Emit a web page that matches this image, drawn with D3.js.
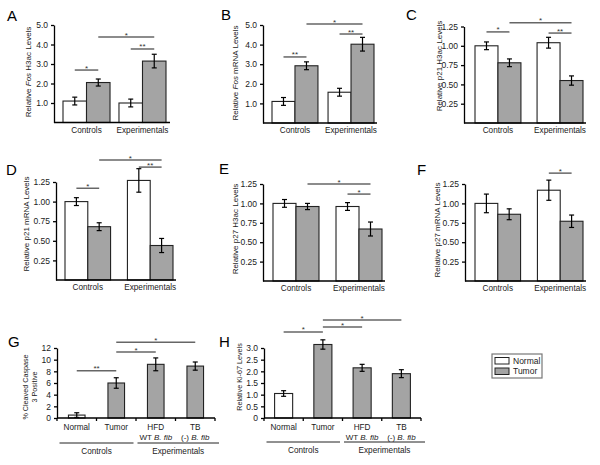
<!DOCTYPE html>
<html><head><meta charset="utf-8">
<script src="https://cdn.jsdelivr.net/npm/d3@7"></script>
<style>body{margin:0;background:#fff}</style>
</head><body>
<svg id="chart" width="600" height="465"></svg>
<script>
// ---------------- DATA ----------------
const groups = ["Controls", "Experimentals"];
const series = ["Normal", "Tumor"];

// A: Relative Fos H3ac
const fosH3acMean = [[1.1, 2.05], [1.0, 3.15]];
const fosH3acErr  = [[0.2, 0.18], [0.2, 0.35]];
const fosH3acSig  = [
  {from: [0, 0], to: [0, 1], level: 2.69, label: "*"},
  {from: [0, 1], to: [1, 1], level: 4.38, label: "*"},
  {from: [1, 0], to: [1, 1], level: 3.77, label: "**"}
];
// B: Relative Fos mRNA
const fosMrnaMean = [[1.1, 2.92], [1.57, 4.02]];
const fosMrnaErr  = [[0.2, 0.2], [0.2, 0.35]];
const fosMrnaSig  = [
  {from: [0, 0], to: [0, 1], level: 3.37, label: "**"},
  {from: [0, 1], to: [1, 1], level: 5.05, label: "*"},
  {from: [1, 0], to: [1, 1], level: 4.54, label: "**"}
];
const fosTicks = [1.0, 2.0, 3.0, 4.0, 5.0];

// C: Relative p21 H3ac
const p21H3acMean = [[1.0, 0.78], [1.04, 0.55]];
const p21H3acErr  = [[0.05, 0.05], [0.07, 0.06]];
const p21H3acSig  = [
  {from: [0, 0], to: [0, 1], level: 1.18, label: "*"},
  {from: [0, 1], to: [1, 1], level: 1.30, label: "*"},
  {from: [1, 0], to: [1, 1], level: 1.165, label: "**"}
];
// D: Relative p21 mRNA
const p21MrnaMean = [[1.0, 0.68], [1.27, 0.44]];
const p21MrnaErr  = [[0.05, 0.05], [0.15, 0.09]];
const p21MrnaSig  = [
  {from: [0, 0], to: [0, 1], level: 1.17, label: "*"},
  {from: [0, 1], to: [1, 1], level: 1.53, label: "*"},
  {from: [1, 0], to: [1, 1], level: 1.44, label: "**"}
];
// E: Relative p27 H3ac
const p27H3acMean = [[1.0, 0.96], [0.96, 0.67]];
const p27H3acErr  = [[0.05, 0.04], [0.05, 0.09]];
const p27H3acSig  = [
  {from: [0, 1], to: [1, 1], level: 1.25, label: "*"},
  {from: [1, 0], to: [1, 1], level: 1.12, label: "*"}
];
// F: Relative p27 mRNA
const p27MrnaMean = [[1.0, 0.86], [1.17, 0.77]];
const p27MrnaErr  = [[0.12, 0.07], [0.13, 0.08]];
const p27MrnaSig  = [
  {from: [1, 0], to: [1, 1], level: 1.39, label: "*"}
];
const smallTicks = [0.25, 0.50, 0.75, 1.00, 1.25];

// G / H categories
const conditions = ["Normal", "Tumor", "HFD", "TB"];
const conditionSub = ["", "", "WT B. fib", "(-) B. fib"];
const conditionGroup = ["Controls", "Controls", "Experimentals", "Experimentals"];
// G: % Cleaved Caspase 3 positive
const caspaseMean = [0.5, 6.0, 9.2, 8.9];
const caspaseErr  = [0.4, 0.9, 1.1, 0.7];
const caspaseSig  = [
  {from: 0, to: 1, level: 8.1, label: "**"},
  {from: 1, to: 2, level: 11.3, label: "*"},
  {from: 1, to: 3, level: 13.0, label: "*"}
];
const caspaseTicks = [0, 2, 4, 6, 8, 10, 12];
// H: Relative Ki-67
const ki67Mean = [1.05, 3.15, 2.15, 1.9];
const ki67Err  = [0.12, 0.2, 0.15, 0.17];
const ki67Sig  = [
  {from: 0, to: 1, level: 3.69, label: "*"},
  {from: 1, to: 2, level: 3.9, label: "*"},
  {from: 1, to: 3, level: 4.2, label: "*"}
];
const ki67Ticks = [0, 0.5, 1.0, 1.5, 2.0, 2.5, 3.0];

// ---------------- DRAWING ----------------
const FONT = "'Liberation Sans', Arial, sans-serif";
const GRAY = "#a4a4a4";
const TXT = "#1a1a1a";
const svg = d3.select("#chart");

function panelLetter(txt, x, y) {
  svg.append("text").attr("x", x).attr("y", y).text(txt)
    .attr("font-family", FONT).attr("font-size", 15).attr("fill", "#000");
}

function yLabel(x, y, lines, size) {
  const t = svg.append("text")
    .attr("transform", `translate(${x},${y}) rotate(-90)`)
    .attr("text-anchor", "middle").attr("font-family", FONT)
    .attr("font-size", size).attr("fill", TXT);
  lines.forEach((parts, li) => {
    parts.forEach((p, pi) => {
      const ts = t.append("tspan").text(p[0]);
      if (p[1]) ts.attr("font-style", "italic");
      if (pi === 0) ts.attr("x", 0).attr("dy", li === 0 ? (lines.length === 1 ? "0.35em" : "-0.25em") : "1.2em");
    });
  });
}

function drawYAxis(g, y, ax, ticks, fmt) {
  const a = g.append("g").attr("transform", `translate(${ax},0)`)
    .call(d3.axisLeft(y).tickValues(ticks).tickFormat(fmt).tickSize(3).tickSizeOuter(0).tickPadding(3));
  a.select(".domain").attr("stroke", "#000").attr("stroke-width", 1.3);
  a.selectAll(".tick line").attr("stroke", "#000").attr("stroke-width", 1.3);
  a.selectAll(".tick text").attr("font-family", FONT).attr("font-size", 8.5).attr("fill", TXT);
}

function drawSig(g, x1, x2, yy, label) {
  g.append("line").attr("x1", x1).attr("x2", x2).attr("y1", yy).attr("y2", yy)
    .attr("stroke", "#666").attr("stroke-width", 1.5);
  g.append("text").attr("x", (x1 + x2) / 2).attr("y", yy + 0.5).text(label)
    .attr("text-anchor", "middle").attr("font-family", FONT).attr("font-size", 8).attr("fill", "#333");
}

function drawBarsAndErr(g, data, y) {
  g.selectAll("rect.bar").data(data).join("rect").attr("class", "bar")
    .attr("x", d => d.x).attr("width", d => d.w)
    .attr("y", d => y(d.v)).attr("height", d => y(0) - y(d.v))
    .attr("fill", d => d.s === "Normal" ? "#fff" : GRAY)
    .attr("stroke", "#222").attr("stroke-width", 1.1);
  const eb = g.selectAll("g.err").data(data).join("g").attr("class", "err");
  eb.append("line").attr("x1", d => d.x + d.w / 2).attr("x2", d => d.x + d.w / 2)
    .attr("y1", d => y(d.v - d.e)).attr("y2", d => y(d.v + d.e));
  eb.append("line").attr("x1", d => d.x + d.w / 2 - 2.5).attr("x2", d => d.x + d.w / 2 + 2.5)
    .attr("y1", d => y(d.v + d.e)).attr("y2", d => y(d.v + d.e));
  eb.append("line").attr("x1", d => d.x + d.w / 2 - 2.5).attr("x2", d => d.x + d.w / 2 + 2.5)
    .attr("y1", d => y(d.v - d.e)).attr("y2", d => y(d.v - d.e));
  eb.selectAll("line").attr("stroke", "#000").attr("stroke-width", 1.2);
}

function groupedPanel(c) {
  const g = svg.append("g");
  const y = d3.scaleLinear().domain([0, c.dmax]).range([c.y0, c.yTop]);
  const x = d3.scaleBand().domain(groups).range([c.bx0, c.bx1]).paddingInner(c.pi);
  const xs = d3.scaleBand().domain(series).range([0, x.bandwidth()]);
  const data = groups.flatMap((grp, gi) => series.map((s, si) => ({
    grp, s, v: c.mean[gi][si], e: c.err[gi][si], x: x(grp) + xs(s), w: xs.bandwidth()
  })));
  drawBarsAndErr(g, data, y);
  // baseline
  g.append("line").attr("x1", c.ax).attr("x2", c.axEnd).attr("y1", c.y0).attr("y2", c.y0)
    .attr("stroke", "#000").attr("stroke-width", 1.3);
  drawYAxis(g, y, c.ax, c.ticks, c.fmt);
  // x labels
  g.selectAll("text.xl").data(groups).join("text").attr("class", "xl")
    .attr("x", d => x(d) + x.bandwidth() / 2).attr("y", c.y0 + 7.5).attr("dy", "0.35em")
    .attr("text-anchor", "middle").attr("font-family", FONT).attr("font-size", 8.2).attr("fill", TXT)
    .text(d => d);
  // significance
  const cx = (p) => x(groups[p[0]]) + xs(series[p[1]]) + xs.bandwidth() / 2;
  c.sig.forEach(s => drawSig(g, cx(s.from), cx(s.to), y(s.level), s.label));
  panelLetter(c.letter, c.lx, c.ly);
  yLabel(c.ylx, c.yly, [c.ylab], 8);
}

function conditionPanel(c) {
  const g = svg.append("g");
  const y = d3.scaleLinear().domain([0, c.dmax]).range([c.y0, c.yTop]);
  const x = d3.scaleBand().domain(conditions).range([c.ax, c.axEnd]).paddingInner(c.pi).paddingOuter(c.pi / 2);
  const data = conditions.map((k, i) => ({
    s: i === 0 ? "Normal" : "Tumor", v: c.mean[i], e: c.err[i], x: x(k), w: x.bandwidth()
  }));
  drawBarsAndErr(g, data, y);
  g.append("line").attr("x1", c.ax).attr("x2", c.axEnd).attr("y1", c.y0).attr("y2", c.y0)
    .attr("stroke", "#000").attr("stroke-width", 1.3);
  const step = x.step();
  d3.range(5).forEach(k => {
    g.append("line").attr("x1", c.ax + k * step).attr("x2", c.ax + k * step)
      .attr("y1", c.y0).attr("y2", c.y0 + 3).attr("stroke", "#000").attr("stroke-width", 1.3);
  });
  drawYAxis(g, y, c.ax, c.ticks, c.fmt);
  // category labels
  conditions.forEach((k, i) => {
    const cxp = x(k) + x.bandwidth() / 2;
    g.append("text").attr("x", cxp).attr("y", c.y0 + 9).attr("dy", "0.35em")
      .attr("text-anchor", "middle").attr("font-family", FONT).attr("font-size", 8.2).attr("fill", TXT).text(k);
    if (conditionSub[i]) {
      const parts = conditionSub[i].split("B. fib");
      const t = g.append("text").attr("x", cxp).attr("y", c.y0 + 19.5).attr("dy", "0.35em")
        .attr("text-anchor", "middle").attr("font-family", FONT).attr("font-size", 8).attr("fill", TXT);
      t.append("tspan").text(parts[0]);
      t.append("tspan").attr("font-style", "italic").text("B. fib");
    }
  });
  // group underlines
  const grpNames = Array.from(new Set(conditionGroup));
  grpNames.forEach((gn, gi) => {
    const idx = conditionGroup.map((v, i) => v === gn ? i : -1).filter(i => i >= 0);
    const x1 = c.ax + idx[0] * step + (gi === 0 ? 2.5 : 1.5);
    const x2 = c.ax + (idx[idx.length - 1] + 1) * step + (gi === 0 ? -2.5 : 4);
    g.append("line").attr("x1", x1).attr("x2", x2).attr("y1", c.gy).attr("y2", c.gy)
      .attr("stroke", "#222").attr("stroke-width", 1);
    g.append("text").attr("x", (x1 + x2) / 2).attr("y", c.gy + 8.5).attr("dy", "0.35em")
      .attr("text-anchor", "middle").attr("font-family", FONT).attr("font-size", 8.2).attr("fill", TXT).text(gn);
  });
  const cx = (i) => x(conditions[i]) + x.bandwidth() / 2;
  c.sig.forEach(s => drawSig(g, cx(s.from), cx(s.to), y(s.level), s.label));
  panelLetter(c.letter, c.lx, c.ly);
  yLabel(c.ylx, c.yly, c.ylab, 7.2);
}

const f1 = d3.format(".1f"), f2 = d3.format(".2f");

groupedPanel({letter: "A", lx: 7, ly: 21, ax: 54, axEnd: 170, y0: 122.5, yTop: 25, dmax: 5,
  bx0: 63, bx1: 166, pi: 0.16, mean: fosH3acMean, err: fosH3acErr, ticks: fosTicks, fmt: f1,
  sig: fosH3acSig, ylx: 28, yly: 72, ylab: [["Relative "], ["Fos", true], [" H3ac Levels"]]});
groupedPanel({letter: "B", lx: 221, ly: 20, ax: 263, axEnd: 377, y0: 123, yTop: 25, dmax: 5,
  bx0: 272, bx1: 374, pi: 0.18, mean: fosMrnaMean, err: fosMrnaErr, ticks: fosTicks, fmt: f1,
  sig: fosMrnaSig, ylx: 235, yly: 73, ylab: [["Relative "], ["Fos", true], [" mRNA Levels"]]});
groupedPanel({letter: "C", lx: 406, ly: 20, ax: 464, axEnd: 586, y0: 123, yTop: 26.5, dmax: 1.25,
  bx0: 475, bx1: 583, pi: 0.26, mean: p21H3acMean, err: p21H3acErr, ticks: smallTicks, fmt: f2,
  sig: p21H3acSig, ylx: 439, yly: 66, ylab: [["Relative p21 H3ac Levels"]]});
groupedPanel({letter: "D", lx: 6, ly: 175, ax: 56, axEnd: 176, y0: 280, yTop: 182, dmax: 1.25,
  bx0: 65, bx1: 173, pi: 0.27, mean: p21MrnaMean, err: p21MrnaErr, ticks: smallTicks, fmt: f2,
  sig: p21MrnaSig, ylx: 26, yly: 224, ylab: [["Relative p21 mRNA Levels"]]});
groupedPanel({letter: "E", lx: 219, ly: 174, ax: 263, axEnd: 385, y0: 281, yTop: 184, dmax: 1.25,
  bx0: 273, bx1: 382, pi: 0.27, mean: p27H3acMean, err: p27H3acErr, ticks: smallTicks, fmt: f2,
  sig: p27H3acSig, ylx: 235, yly: 229, ylab: [["Relative p27 H3ac Levels"]]});
groupedPanel({letter: "F", lx: 417, ly: 175, ax: 465, axEnd: 586, y0: 281, yTop: 184, dmax: 1.25,
  bx0: 475, bx1: 583, pi: 0.27, mean: p27MrnaMean, err: p27MrnaErr, ticks: smallTicks, fmt: f2,
  sig: p27MrnaSig, ylx: 437, yly: 230, ylab: [["Relative p27 mRNA Levels"]]});

conditionPanel({letter: "G", lx: 8, ly: 347, ax: 57, axEnd: 215, y0: 418, yTop: 348, dmax: 12,
  pi: 0.58, mean: caspaseMean, err: caspaseErr, ticks: caspaseTicks, fmt: d3.format("d"),
  sig: caspaseSig, gy: 443, ylx: 30, yly: 387,
  ylab: [[["% Cleaved Caspase"]], [["3 Positive"]]]});
conditionPanel({letter: "H", lx: 219, ly: 347, ax: 264, axEnd: 421, y0: 418, yTop: 348, dmax: 3,
  pi: 0.54, mean: ki67Mean, err: ki67Err, ticks: ki67Ticks, fmt: d => d === 0 ? "0" : f1(d),
  sig: ki67Sig, gy: 442, ylx: 239, yly: 377,
  ylab: [[["Relative Ki-67 Levels"]]]});

// legend
const lg = svg.append("g");
lg.append("rect").attr("x", 492).attr("y", 354).attr("width", 50).attr("height", 24)
  .attr("fill", "#fff").attr("stroke", "#777").attr("stroke-width", 1.2);
series.forEach((s, i) => {
  lg.append("rect").attr("x", 495).attr("y", 357.5 + i * 10.5).attr("width", 14).attr("height", 6.5)
    .attr("fill", s === "Normal" ? "#fff" : GRAY).attr("stroke", "#222").attr("stroke-width", 1);
  lg.append("text").attr("x", 513).attr("y", 361 + i * 10.5).attr("dy", "0.35em")
    .attr("font-family", FONT).attr("font-size", 8.5).attr("fill", TXT).text(s);
});
</script>
</body></html>
